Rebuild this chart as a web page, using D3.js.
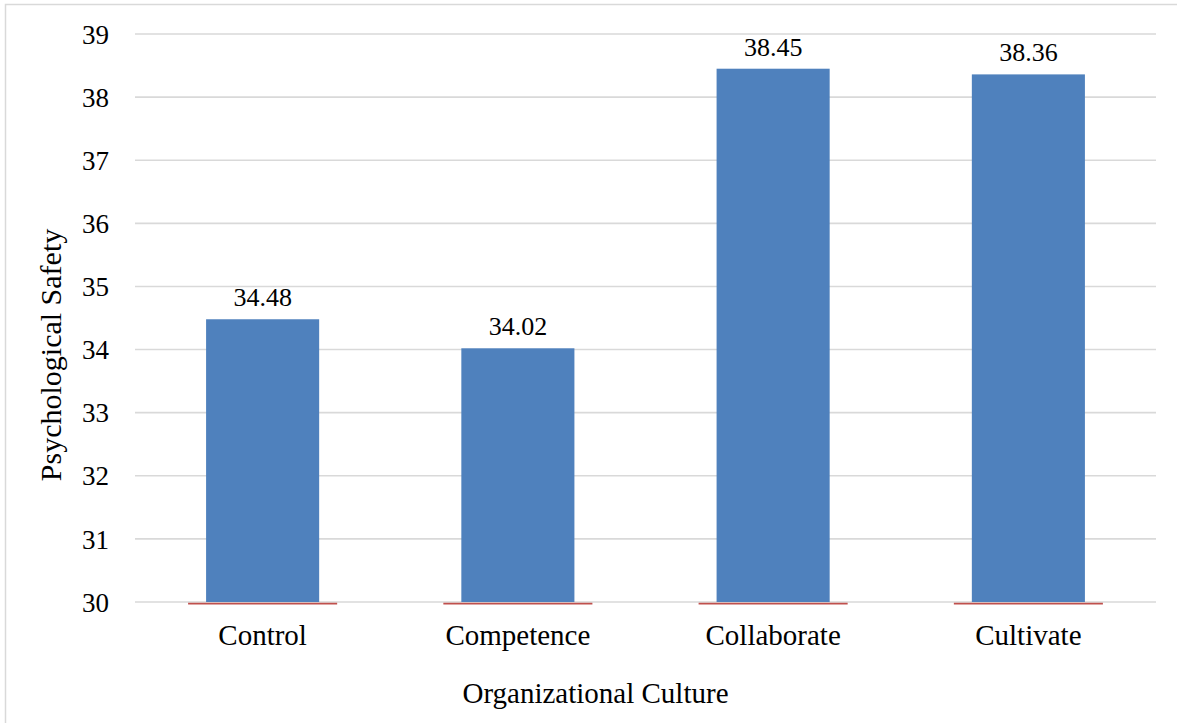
<!DOCTYPE html>
<html>
<head>
<meta charset="utf-8">
<script src="https://cdn.jsdelivr.net/npm/d3@7"></script>
<style>
  html, body { margin: 0; padding: 0; background: #fff; }
  svg { display: block; }
  text { font-family: "Liberation Serif", serif; fill: #000; }
</style>
</head>
<body>
<svg id="chart" width="1177" height="723"></svg>
<script>
// Mean psychological safety score by organizational culture type
const categories = ["Control", "Competence", "Collaborate", "Cultivate"];
const safetyMeans = [34.48, 34.02, 38.45, 38.36];
// Second series, sitting at the axis floor
const floorSeries = [30, 30, 30, 30];
const yTicks = [30, 31, 32, 33, 34, 35, 36, 37, 38, 39];
const yTitle = "Psychological Safety";
const xTitle = "Organizational Culture";

const SERIF = "'Liberation Serif', serif";
const svg = d3.select("#chart");
const plot = { left: 135, right: 1156, top: 34, bottom: 602 };

// Outer chart frame (extends past the window edges)
svg.append("rect")
  .attr("x", 5.5).attr("y", 4.5)
  .attr("width", 1182).attr("height", 740)
  .attr("fill", "#fff")
  .attr("stroke", "#d9d9d9").attr("stroke-width", 1.5);

const x = d3.scaleBand()
  .domain(categories)
  .range([plot.left, plot.right]);

const y = d3.scaleLinear()
  .domain([d3.min(yTicks), d3.max(yTicks)])
  .range([plot.bottom, plot.top]);

// Horizontal gridlines
svg.append("g")
  .selectAll("line")
  .data(yTicks)
  .join("line")
  .attr("x1", plot.left).attr("x2", plot.right)
  .attr("y1", d => y(d)).attr("y2", d => y(d))
  .attr("stroke", "#d9d9d9").attr("stroke-width", 1.6);

// Y axis tick labels
const yAxis = d3.axisLeft(y).tickValues(yTicks).tickSize(0).tickPadding(0).tickFormat(d3.format("d"));
const gy = svg.append("g")
  .attr("transform", `translate(${plot.left - 26},0)`)
  .call(yAxis);
gy.attr("font-family", null).attr("font-size", null);
gy.select(".domain").remove();
gy.selectAll("text")
  .style("font-family", SERIF)
  .style("font-size", "27px")
  .attr("fill", "#000")
  .attr("dy", "0.34em");

// Bars
const barRatio = 0.443;
const barW = x.bandwidth() * barRatio;
svg.append("g")
  .selectAll("rect")
  .data(categories)
  .join("rect")
  .attr("x", (d) => x(d) + (x.bandwidth() - barW) / 2)
  .attr("width", barW)
  .attr("y", (d, i) => y(safetyMeans[i]))
  .attr("height", (d, i) => y(y.domain()[0]) - y(safetyMeans[i]))
  .attr("fill", "#4f81bd");

// Floor series drawn as thin red strokes just under the baseline
const floorW = x.bandwidth() * 0.584;
svg.append("g")
  .selectAll("line")
  .data(categories)
  .join("line")
  .attr("x1", d => x(d) + (x.bandwidth() - floorW) / 2)
  .attr("x2", d => x(d) + (x.bandwidth() + floorW) / 2)
  .attr("y1", (d, i) => y(floorSeries[i]) + 1.6)
  .attr("y2", (d, i) => y(floorSeries[i]) + 1.6)
  .attr("stroke", "#c0504d").attr("stroke-width", 1.6);

// Value labels
svg.append("g")
  .selectAll("text")
  .data(categories)
  .join("text")
  .attr("x", d => x(d) + x.bandwidth() / 2)
  .attr("y", (d, i) => y(safetyMeans[i]) - 13)
  .attr("text-anchor", "middle")
  .style("font-family", SERIF)
  .style("font-size", "26px")
  .text((d, i) => safetyMeans[i].toFixed(2));

// Category labels
const xAxis = d3.axisBottom(x).tickSize(0).tickPadding(0);
const gx = svg.append("g")
  .attr("transform", `translate(0,${plot.bottom})`)
  .call(xAxis);
gx.attr("font-family", null).attr("font-size", null);
gx.select(".domain").remove();
gx.selectAll("text")
  .style("font-family", SERIF)
  .style("font-size", "29px")
  .attr("fill", "#000")
  .attr("dy", 0)
  .attr("y", 43);

// Axis titles
svg.append("text")
  .attr("transform", `translate(61,355) rotate(-90)`)
  .attr("text-anchor", "middle")
  .style("font-family", SERIF)
  .style("font-size", "30px")
  .text(yTitle);

svg.append("text")
  .attr("x", 595.5)
  .attr("y", 703)
  .attr("text-anchor", "middle")
  .style("font-family", SERIF)
  .style("font-size", "29px")
  .text(xTitle);
</script>
</body>
</html>
